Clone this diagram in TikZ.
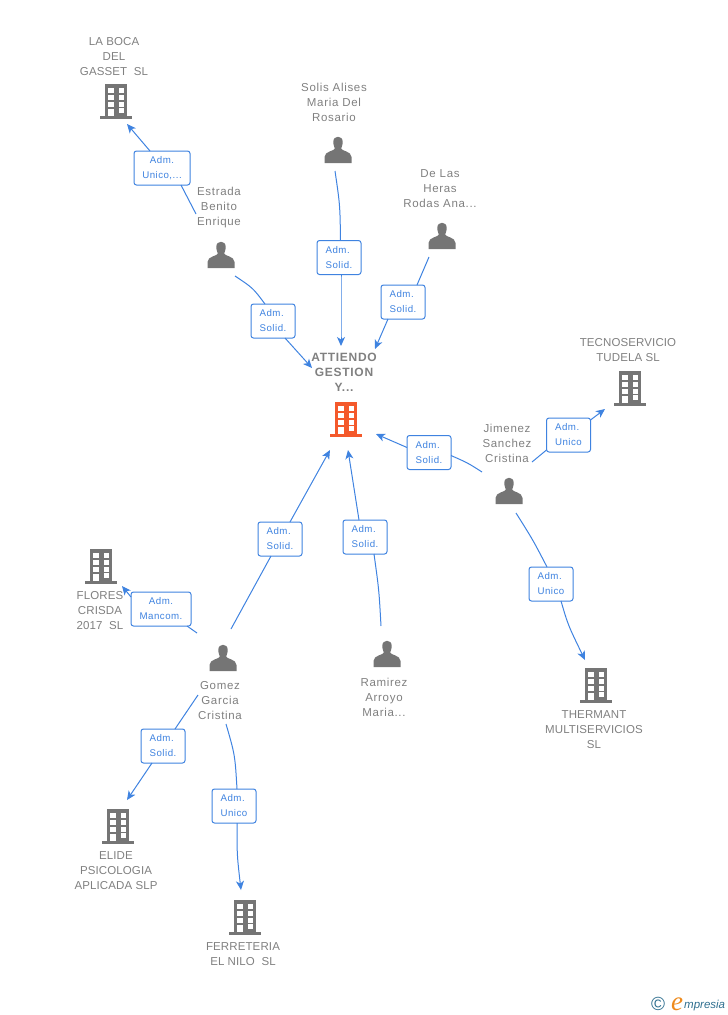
\documentclass[tikz,border=0pt]{standalone}
\usepackage{fontspec}
\setmainfont{Liberation Sans}
\newfontfamily\logoserif{Liberation Serif}
\usetikzlibrary{arrows.meta}
\definecolor{linkblue}{HTML}{3F83E0}
\definecolor{txtgrey}{HTML}{808080}
\definecolor{icongrey}{HTML}{757575}
\definecolor{mainorange}{HTML}{F4592B}
\definecolor{logoteal}{HTML}{2F6F8F}
\definecolor{logoorange}{HTML}{EE8A1C}
\tikzset{
  x=1pt,y=-1pt,
  ent/.style={text=txtgrey,align=center,inner sep=0pt,font=\fontsize{11.5}{15}\selectfont\addfontfeature{LetterSpace=1}},
  pername/.style={ent,font=\fontsize{11.5}{15}\selectfont\addfontfeature{LetterSpace=6}},
  mainent/.style={ent,font=\fontsize{12}{15}\selectfont\bfseries\addfontfeature{LetterSpace=6}},
  rolebox/.style={draw=linkblue,fill=white,rounded corners=2.5pt,line width=1pt,text=linkblue,align=left,
    inner sep=0pt,minimum height=34pt,minimum width=44pt,font=\fontsize{9.7}{15}\selectfont\addfontfeature{LetterSpace=5}},
  conn/.style={draw=linkblue,line width=1pt},
  tip/.style={conn,-{Stealth[length=9pt,width=8pt,inset=2.5pt]}},
  building/.pic={
    \fill[pic actions] (-11,-17) rectangle (11,15);
    \fill[pic actions] (-16,15) rectangle (16,17.5);
    \foreach \yy in {-13,-6,1}{
      \fill[white] (-8,\yy) rectangle (-2.5,\yy+4.5);
      \fill[white] (2.5,\yy) rectangle (8,\yy+4.5);
    }
    \fill[white] (-8,7.5) rectangle (-2.5,15);
    \fill[white] (2.5,7) rectangle (8,11.5);
  },
  person/.pic={
    \fill[pic actions] (-4.7,-8) .. controls (-5,-15) and (5,-15) .. (4.7,-8)
      .. controls (4.7,-4) and (3.2,-3) .. (3.2,-1.5)
      .. controls (3.2,1) and (13.5,1) .. (13.5,7)
      -- (13.5,13) -- (-13.5,13) -- (-13.5,7)
      .. controls (-13.5,1) and (-3.2,1) .. (-3.2,-1.5)
      .. controls (-3.2,-3) and (-4.7,-4) .. (-4.7,-8) -- cycle;
  },
}
\begin{document}
\begin{tikzpicture}
\useasboundingbox (0,0) rectangle (728,1015);
% icons
\pic[fill=mainorange] at (346,419) {building};
\pic[fill=icongrey] at (116,101) {building};
\pic[fill=icongrey] at (630,388) {building};
\pic[fill=icongrey] at (596,685) {building};
\pic[fill=icongrey] at (101,566) {building};
\pic[fill=icongrey] at (118,826) {building};
\pic[fill=icongrey] at (245,917) {building};
\pic[fill=icongrey] at (221,255) {person};
\pic[fill=icongrey] at (338,150) {person};
\pic[fill=icongrey] at (442,236) {person};
\pic[fill=icongrey] at (509,491) {person};
\pic[fill=icongrey] at (223,658) {person};
\pic[fill=icongrey] at (387,654) {person};
% entity texts
\node[mainent] (attiendo) at (344,372) {ATTIENDO\\GESTION\\Y...};
\node[ent] (laboca) at (114,56.5) {LA BOCA\\DEL\\GASSET\ \ SL};
\node[pername] (solis) at (334,102) {Solis Alises\\Maria Del\\Rosario};
\node[pername] (heras) at (440,188.5) {De Las\\Heras\\Rodas Ana...};
\node[pername] (estrada) at (219,207.5) {Estrada\\Benito\\Enrique};
\node[ent] (tecno) at (628,350) {TECNOSERVICIO\\TUDELA SL};
\node[pername] (jimenez) at (507,443) {Jimenez\\Sanchez\\Cristina};
\node[ent] (flores) at (100,610.5) {FLORES\\CRISDA\\2017\ \ SL};
\node[pername] (gomez) at (220,700.5) {Gomez\\Garcia\\Cristina};
\node[pername] (ramirez) at (384,697) {Ramirez\\Arroyo\\Maria...};
\node[ent] (thermant) at (594,729.5) {THERMANT\\MULTISERVICIOS\\SL};
\node[ent] (elide) at (116,870.5) {ELIDE\\PSICOLOGIA\\APLICADA SLP};
\node[ent] (ferre) at (243,954) {FERRETERIA\\EL NILO\ \ SL};
% connector free ends
\coordinate (s1) at (196,214); \coordinate (t1) at (127,124);
\coordinate (s2) at (335,171); \coordinate (t2) at (341,346);
\coordinate (s3) at (429,257); \coordinate (t3) at (375,349);
\coordinate (s4) at (235,276); \coordinate (t4) at (312,368);
\coordinate (s5) at (482,472); \coordinate (t5) at (376,434);
\coordinate (s6) at (532,462); \coordinate (t6) at (605,409);
\coordinate (s7) at (516,513); \coordinate (t7) at (585,660);
\coordinate (s8) at (231,629); \coordinate (t8) at (330,450);
\coordinate (s9) at (381,626); \coordinate (t9) at (348,450);
\coordinate (s10) at (197,633); \coordinate (t10) at (122,586);
\coordinate (s11) at (198,695); \coordinate (t11) at (127,800);
\coordinate (s12) at (226,724); \coordinate (t12) at (241,890);
% role boxes
\node[rolebox,align=center,minimum width=56pt] (r1) at (162,168) {Adm.\\Unico,...};
\node[rolebox] (r2) at (339,257.5) {Adm.\\Solid.};
\node[rolebox] (r3) at (403,302) {Adm.\\Solid.};
\node[rolebox] (r4) at (273,321) {Adm.\\Solid.};
\node[rolebox] (r5) at (429,452.5) {Adm.\\Solid.};
\node[rolebox] (r6) at (568.5,435) {Adm.\\Unico};
\node[rolebox] (r7) at (551,584) {Adm.\\Unico};
\node[rolebox] (r8) at (280,539) {Adm.\\Solid.};
\node[rolebox] (r9) at (365,537) {Adm.\\Solid.};
\node[rolebox,align=center,minimum width=60pt] (r10) at (161,609) {Adm.\\Mancom.};
\node[rolebox] (r11) at (163,746) {Adm.\\Solid.};
\node[rolebox] (r12) at (234,806) {Adm.\\Unico};
% connectors
\draw[conn] (s1) -- ([shift={(19,17)}]r1.center);
\draw[tip] ([shift={(-12,-17)}]r1.center) -- (t1);
\draw[conn] (s2) .. controls (340,205) .. ([shift={(1.5,-17)}]r2.center);
\draw[tip] ([shift={(2,17)}]r2.center) .. controls (341,310) .. (t2);
\draw[conn] (s3) -- ([shift={(14,-17)}]r3.center);
\draw[tip] ([shift={(-15,17)}]r3.center) -- (t3);
\draw[conn] (s4) .. controls (253,288) .. ([shift={(-8,-17)}]r4.center);
\draw[tip] ([shift={(12,17)}]r4.center) -- (t4);
\draw[conn] (s5) .. controls (468,463) .. ([shift={(22,3)}]r5.center);
\draw[tip] ([shift={(-22,-5)}]r5.center) -- (t5);
\draw[conn] (s6) -- ([shift={(-22,15)}]r6.center);
\draw[tip] ([shift={(22,-15)}]r6.center) -- (t6);
\draw[conn] (s7) .. controls (533,540) .. ([shift={(-4,-17)}]r7.center);
\draw[tip] ([shift={(10,17)}]r7.center) .. controls (568,625) .. (t7);
\draw[conn] (s8) -- ([shift={(-9,17)}]r8.center);
\draw[tip] ([shift={(10,-17)}]r8.center) -- (t8);
\draw[conn] (s9) .. controls (379,590) .. ([shift={(9,17)}]r9.center);
\draw[tip] ([shift={(-6,-17)}]r9.center) -- (t9);
\draw[conn] (s10) -- ([shift={(26,17)}]r10.center);
\draw[tip] ([shift={(-30,-12)}]r10.center) -- (t10);
\draw[conn] (s11) -- ([shift={(12,-17)}]r11.center);
\draw[tip] ([shift={(-11,17)}]r11.center) -- (t11);
\draw[conn] (s12) .. controls (235,755) .. ([shift={(3,-17)}]r12.center);
\draw[tip] ([shift={(3,17)}]r12.center) .. controls (237,855) .. (t12);
% logo
\node[inner sep=0pt,text=logoteal,font=\fontsize{19}{19}\selectfont] (copy) at (658,1004) {©};
\node[anchor=base west,inner sep=0pt,text=logoorange,font=\logoserif\fontsize{27}{27}\selectfont\itshape] (logoe) at (671,1010) {e};
\node[anchor=base west,inner sep=0pt,text=logoteal,font=\fontsize{11.5}{14}\selectfont\itshape] (logotxt) at (684,1008.5) {mpresia};
\end{tikzpicture}
\end{document}
